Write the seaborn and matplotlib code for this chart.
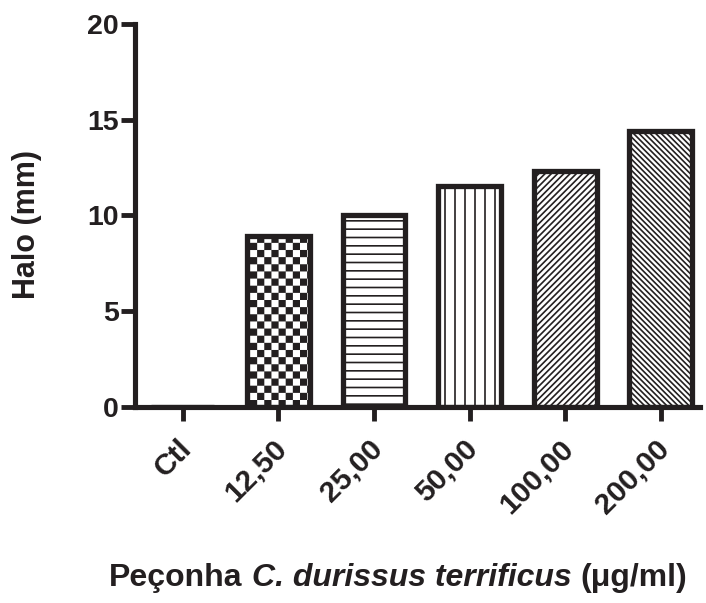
import warnings
warnings.filterwarnings("ignore")
import numpy as np
import pandas as pd
import matplotlib
matplotlib.use("Agg")
import matplotlib.pyplot as plt
import matplotlib.hatch as mhatch
import matplotlib.transforms as mtransforms
from matplotlib.path import Path
from matplotlib.offsetbox import TextArea, HPacker, AnchoredOffsetbox
import seaborn as sns

# ---------------- data ----------------
categories = ["Ctl", "12,50", "25,00", "50,00", "100,00", "200,00"]
halo_mm = [0.0, 8.9, 10.0, 11.55, 12.3, 14.4]
bar_hatches = ["", "x", "--", "||", "/", "\\"]
y_ticks = [0, 5, 10, 15, 20]
y_label = "Halo (mm)"
x_label_parts = ["Peçonha", "C. durissus terrificus", "(μg/ml)"]
x_label_styles = ["normal", "italic", "normal"]

INK = "#231f20"


# ---------------- custom hatch patterns (GraphPad-like) ----------------
class CheckerHatch(mhatch.HatchPatternBase):
    def __init__(self, hatch, density):
        self.k = 14 * hatch.count("x")
        self.num_vertices = (self.k * self.k // 2) * 5 if self.k else 0

    def set_vertices_and_codes(self, vertices, codes):
        k = self.k
        s = 1.0 / k
        inset = 0.008
        n = 0
        for i in range(k):
            for j in range(k):
                if (i + j) % 2 == 0:
                    x0, y0 = i * s + inset, j * s + inset
                    x1, y1 = (i + 1) * s - inset, (j + 1) * s - inset
                    vertices[n:n + 5] = [[x0, y0], [x1, y0], [x1, y1], [x0, y1], [x0, y0]]
                    codes[n:n + 5] = [Path.MOVETO, Path.LINETO, Path.LINETO,
                                      Path.LINETO, Path.CLOSEPOLY]
                    n += 5


class HLineHatch(mhatch.HatchPatternBase):
    def __init__(self, hatch, density):
        self.k = 6 * hatch.count("-")
        self.num_vertices = 2 * self.k

    def set_vertices_and_codes(self, vertices, codes):
        ys = (np.arange(self.k) + 0.5) / self.k
        vertices[0::2, 0] = 0.0
        vertices[0::2, 1] = ys
        vertices[1::2, 0] = 1.0
        vertices[1::2, 1] = ys
        codes[0::2] = Path.MOVETO
        codes[1::2] = Path.LINETO


class VLineHatch(mhatch.HatchPatternBase):
    def __init__(self, hatch, density):
        self.k = 5 * hatch.count("|")
        self.num_vertices = 2 * self.k

    def set_vertices_and_codes(self, vertices, codes):
        xs = (np.arange(self.k) + 0.5) / self.k
        vertices[0::2, 0] = xs
        vertices[0::2, 1] = 0.0
        vertices[1::2, 0] = xs
        vertices[1::2, 1] = 1.0
        codes[0::2] = Path.MOVETO
        codes[1::2] = Path.LINETO


class NEHatch(mhatch.HatchPatternBase):
    def __init__(self, hatch, density):
        self.k = 16 * hatch.count("/")
        self.num_vertices = 2 * (2 * self.k + 1) if self.k else 0

    def set_vertices_and_codes(self, vertices, codes):
        c = np.arange(-self.k, self.k + 1) / self.k
        vertices[0::2, 0] = 0.0
        vertices[0::2, 1] = c
        vertices[1::2, 0] = 1.0
        vertices[1::2, 1] = 1.0 + c
        codes[0::2] = Path.MOVETO
        codes[1::2] = Path.LINETO


class SEHatch(mhatch.HatchPatternBase):
    def __init__(self, hatch, density):
        self.k = 18 * hatch.count("\\")
        self.num_vertices = 2 * (2 * self.k + 1) if self.k else 0

    def set_vertices_and_codes(self, vertices, codes):
        c = np.arange(0, 2 * self.k + 1) / self.k
        vertices[0::2, 0] = 0.0
        vertices[0::2, 1] = c
        vertices[1::2, 0] = 1.0
        vertices[1::2, 1] = c - 1.0
        codes[0::2] = Path.MOVETO
        codes[1::2] = Path.LINETO


mhatch._hatch_types[:] = [CheckerHatch, HLineHatch, VLineHatch, NEHatch, SEHatch]

# ---------------- style ----------------
sns.set_style("ticks")
plt.rcParams["font.family"] = ["Liberation Sans", "DejaVu Sans"]
plt.rcParams["font.weight"] = "bold"
plt.rcParams["text.color"] = INK
plt.rcParams["axes.labelcolor"] = INK
plt.rcParams["xtick.color"] = INK
plt.rcParams["ytick.color"] = INK
plt.rcParams["hatch.color"] = INK
plt.rcParams["hatch.linewidth"] = 1.2

fig = plt.figure(figsize=(7.06, 6.03), dpi=100)
ax = fig.add_axes([135 / 706, 1 - 406.7 / 603, 565 / 706, (406.7 - 24) / 603])

df = pd.DataFrame({"dose": categories, "halo": halo_mm})
sns.barplot(data=df, x="dose", y="halo", order=categories, color="white",
            saturation=1, edgecolor=INK, linewidth=3.8, width=0.655,
            errorbar=None, ax=ax)

for patch, h in zip(ax.patches, bar_hatches):
    patch.set_facecolor("white")
    patch.set_edgecolor(INK)
    patch.set_hatch(h)
    patch.set_joinstyle("miter")

ax.set_xlim(-0.5, 5.41)
ax.set_ylim(0, 20)
ax.set_yticks(y_ticks)
ax.set_yticklabels([str(v) for v in y_ticks])

for side in ["top", "right"]:
    ax.spines[side].set_visible(False)
for side in ["left", "bottom"]:
    ax.spines[side].set_linewidth(3.7)
    ax.spines[side].set_color(INK)
    ax.spines[side].set_capstyle("projecting")

ax.tick_params(axis="both", which="major", length=10, width=3.5, color=INK)
ax.tick_params(axis="y", pad=1.5, labelsize=20.5)
ax.tick_params(axis="x", pad=17, labelsize=21.5)
shift = mtransforms.ScaledTranslation(4 / 100, 0, fig.dpi_scale_trans)
for lab in ax.get_xticklabels():
    lab.set_rotation(45)
    lab.set_ha("right")
    lab.set_va("center")
    lab.set_rotation_mode("anchor")
    lab.set_fontweight("bold")
    lab.set_transform(lab.get_transform() + shift)
for lab in ax.get_yticklabels():
    lab.set_fontweight("bold")

ax.set_xlabel("")
ax.set_ylabel(y_label, fontsize=22, fontweight="bold")
ax.yaxis.set_label_coords(-0.165, 0.475)

# x-axis title with italic species name
areas = [TextArea(t, textprops=dict(fontsize=23, fontweight="bold", fontstyle=s,
                                    color=INK))
         for t, s in zip(x_label_parts, x_label_styles)]
packer = HPacker(children=areas, sep=6.3, pad=0, align="baseline")
xtitle = AnchoredOffsetbox(loc="center", child=packer, pad=0, borderpad=0,
                           frameon=False,
                           bbox_to_anchor=(398 / 706, 1 - 578 / 603),
                           bbox_transform=fig.transFigure)
fig.add_artist(xtitle)

fig.savefig("out.png", dpi=100)
